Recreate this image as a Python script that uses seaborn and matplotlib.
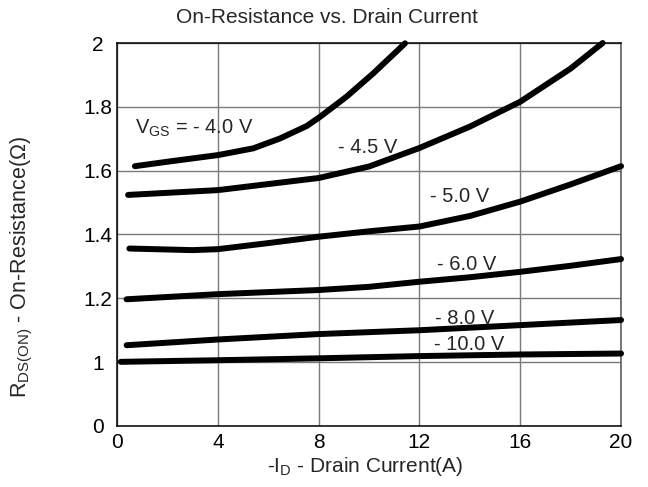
import pandas as pd
import matplotlib
matplotlib.use("Agg")
import matplotlib.pyplot as plt
import seaborn as sns

# valeurs (courant de drain en A, résistance en ohm)
vgs_labels = ["-4.0", "-4.5", "-5.0", "-6.0", "-8.0", "-10.0"]

id_40 = [0.71, 2.0, 4.02, 5.41, 6.47, 7.53, 8.06, 9.11, 10.17, 11.43]
r_40 = [1.614, 1.628, 1.649, 1.670, 1.701, 1.740, 1.769, 1.832, 1.905, 1.999]

id_45 = [0.44, 4.0, 8.0, 10.0, 12.0, 14.0, 16.0, 18.0, 19.27]
r_45 = [1.524, 1.539, 1.577, 1.613, 1.671, 1.738, 1.816, 1.920, 2.000]

id_50 = [0.49, 3.0, 4.0, 6.0, 8.0, 10.0, 12.0, 14.0, 16.0, 18.0, 20.0]
r_50 = [1.356, 1.351, 1.354, 1.373, 1.393, 1.410, 1.425, 1.458, 1.503, 1.557, 1.614]

id_60 = [0.38, 4.0, 8.0, 10.0, 12.0, 14.0, 16.0, 18.0, 20.0]
r_60 = [1.197, 1.213, 1.226, 1.236, 1.252, 1.266, 1.283, 1.302, 1.323]

id_80 = [0.38, 4.0, 8.0, 12.0, 16.0, 20.0]
r_80 = [1.053, 1.071, 1.088, 1.100, 1.116, 1.132]

id_100 = [0.15, 4.0, 8.0, 12.0, 16.0, 20.0]
r_100 = [1.001, 1.006, 1.012, 1.019, 1.024, 1.027]

x_ticks = [0, 4, 8, 12, 16, 20]
y_ticks = [0.8, 1.0, 1.2, 1.4, 1.6, 1.8, 2.0]
y_tick_labels = ["0", "1", "1.2", "1.4", "1.6", "1.8", "2"]

curve_texts = ["V$_{\\mathregular{GS}}$ = - 4.0 V", "- 4.5 V", "- 5.0 V",
               "- 6.0 V", "- 8.0 V", "- 10.0 V"]
text_x = [0.71, 8.77, 12.42, 12.7, 12.62, 12.58]
text_y = [1.734, 1.674, 1.52, 1.307, 1.138, 1.056]

# tableau long pour seaborn
frames = []
for lab, xs, ys in zip(vgs_labels,
                       [id_40, id_45, id_50, id_60, id_80, id_100],
                       [r_40, r_45, r_50, r_60, r_80, r_100]):
    frames.append(pd.DataFrame({"Id": xs, "Rds": ys, "Vgs": lab}))
df = pd.concat(frames, ignore_index=True)

sns.set_style("white")
plt.rcParams["font.family"] = ["Liberation Sans", "DejaVu Sans"]
plt.rcParams["mathtext.fontset"] = "custom"
plt.rcParams["mathtext.rm"] = "Liberation Sans"
plt.rcParams["mathtext.it"] = "Liberation Sans:italic"
plt.rcParams["mathtext.bf"] = "Liberation Sans:bold"

fig = plt.figure(figsize=(6.48, 4.87), dpi=100)
ax = fig.add_axes([0.1806, 0.1253, 0.7778, 0.7864])

sns.lineplot(data=df, x="Id", y="Rds", hue="Vgs", hue_order=vgs_labels,
             palette=["black"] * len(vgs_labels), linewidth=4.3,
             sort=False, estimator=None, legend=False, ax=ax)
for line in ax.get_lines():
    line.set_solid_capstyle("round")
    line.set_solid_joinstyle("round")
    line.set_clip_on(False)
    line.set_zorder(3)

ax.set_xlim(0, 20)
ax.set_ylim(0.8, 2.0)
ax.set_xticks(x_ticks)
ax.set_yticks(y_ticks)
ax.set_yticklabels(y_tick_labels)
ax.tick_params(axis="both", length=0, labelsize=15, colors="black")
ax.tick_params(axis="y", pad=13.7)
ax.tick_params(axis="x", pad=5)
plt.setp(ax.get_yticklabels(), ha="center")

ax.grid(True, color="#7a7a7a", linewidth=1.0)
ax.set_axisbelow(True)
for side in ["left", "bottom", "top"]:
    ax.spines[side].set_color("black")
    ax.spines[side].set_linewidth(1.1)
ax.spines["right"].set_color("#555555")
ax.spines["right"].set_linewidth(1.1)

for txt, tx, ty in zip(curve_texts, text_x, text_y):
    ax.text(tx, ty, txt, fontsize=14.5, ha="left", va="center", zorder=4)

ax.set_xlabel("-I$_{\\mathregular{D}}$ - Drain Current(A)", fontsize=15,
              va="center", ha="center")
ax.set_ylabel("R$_{\\mathregular{DS(ON)}}$ - On-Resistance(Ω)", fontsize=15.5,
              va="center", ha="center", rotation_mode="default")
ax.xaxis.set_label_coords(0.492, -0.107)
ax.yaxis.set_label_coords(-0.188, 0.415)

fig.text(0.505, 0.965, "On-Resistance vs. Drain Current", fontsize=15,
         ha="center", va="center")

fig.savefig("out.png", dpi=100)
plt.close(fig)
